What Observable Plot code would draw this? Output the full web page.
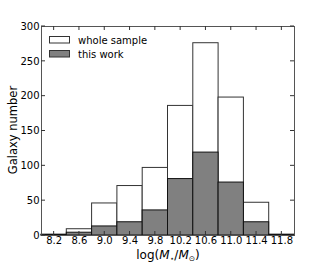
<!DOCTYPE html>
<html><head><meta charset="utf-8">
<script src="https://cdn.jsdelivr.net/npm/d3@7"></script>
<script src="https://cdn.jsdelivr.net/npm/@observablehq/plot@0.6"></script>
<style>body{margin:0;background:#fff;} svg{font-family:"DejaVu Sans",sans-serif;}</style>
</head><body><div id="chart"></div>
<script>
const binCenters = [8.2, 8.6, 9.0, 9.4, 9.8, 10.2, 10.6, 11.0, 11.4, 11.8];
const wholeSample = [1, 9, 46, 71, 97, 186, 276, 198, 47, 1];
const thisWork = [1, 4, 13, 19, 36, 81, 119, 76, 19, 1];
const xTickLabels = ["8.2","8.6","9.0","9.4","9.8","10.2","10.6","11.0","11.4","11.8"];
const yTicks = [0, 50, 100, 150, 200, 250, 300];
const binWidth = 0.4;

const whole = binCenters.map((c, i) => ({x1: c - binWidth/2, x2: c + binWidth/2, y: wholeSample[i]}));
const work = binCenters.map((c, i) => ({x1: c - binWidth/2, x2: c + binWidth/2, y: thisWork[i]}));

const plot = Plot.plot({
  width: 327, height: 262,
  marginLeft: 41, marginRight: 33, marginTop: 26, marginBottom: 27,
  style: {fontFamily: "DejaVu Sans, sans-serif", fontSize: "10px", color: "#000"},
  x: {domain: [8, 12]},
  y: {domain: [0, 300]},
  marks: [
    Plot.rectY(whole, {x1: "x1", x2: "x2", y: "y", fill: "white", stroke: "#333", strokeWidth: 1}),
    Plot.rectY(work, {x1: "x1", x2: "x2", y: "y", fill: "#808080", stroke: "#111", strokeWidth: 1}),
    Plot.axisX({ticks: binCenters, tickFormat: (d, i) => xTickLabels[i], tickSize: 0, tickPadding: 1, label: null, fill: "#000"}),
    Plot.axisY({ticks: yTicks, tickSize: 0, tickPadding: 2, label: null, fill: "#000"}),
    Plot.frame({stroke: "#555"})
  ]
});
document.getElementById("chart").appendChild(plot);

const svg = d3.select(plot);
const xs = plot.scale("x"), ys = plot.scale("y");
const L = 41, R = 327 - 33, T = 26, B = 262 - 27;
const g = svg.append("g").attr("stroke", "#333").attr("stroke-width", 1);
binCenters.forEach(c => {
  const px = xs.apply(c);
  g.append("line").attr("x1", px).attr("x2", px).attr("y1", B).attr("y2", B - 4);
  g.append("line").attr("x1", px).attr("x2", px).attr("y1", T).attr("y2", T + 4);
});
yTicks.forEach(v => {
  const py = ys.apply(v);
  g.append("line").attr("x1", L).attr("x2", L + 4).attr("y1", py).attr("y2", py);
  g.append("line").attr("x1", R).attr("x2", R - 4).attr("y1", py).attr("y2", py);
});

// legend
const lg = svg.append("g").attr("font-size", "10px").attr("font-family", "DejaVu Sans, sans-serif").attr("text-anchor", "start");
[["whole sample", "white"], ["this work", "#808080"]].forEach(([t, f], i) => {
  const y = 36 + i * 14;
  lg.append("rect").attr("x", 49.5).attr("y", y + 0.5).attr("width", 20).attr("height", 6.5)
    .attr("fill", f).attr("stroke", "#333");
  lg.append("text").attr("x", 78).attr("y", y + 4).attr("dy", "0.35em").attr("text-anchor", "start").text(t);
});

// y label
svg.append("text").attr("transform", "translate(13,130) rotate(-90)")
  .attr("text-anchor", "middle").attr("font-size", "11.5px").attr("dy", "0.35em").text("Galaxy number");

// x label
const xl = svg.append("text").attr("x", 168).attr("y", 259).attr("text-anchor", "middle").attr("font-size", "12px");
xl.append("tspan").text("log(");
xl.append("tspan").attr("font-style", "italic").text("M");
xl.append("tspan").attr("font-size", "7.5px").attr("dy", "2").text("⋆");
xl.append("tspan").attr("dy", "-2").text("/");
xl.append("tspan").attr("font-style", "italic").text("M");
xl.append("tspan").attr("font-size", "7.5px").attr("dy", "2").text("⊙");
xl.append("tspan").attr("dy", "-2").text(")");
</script></body></html>
